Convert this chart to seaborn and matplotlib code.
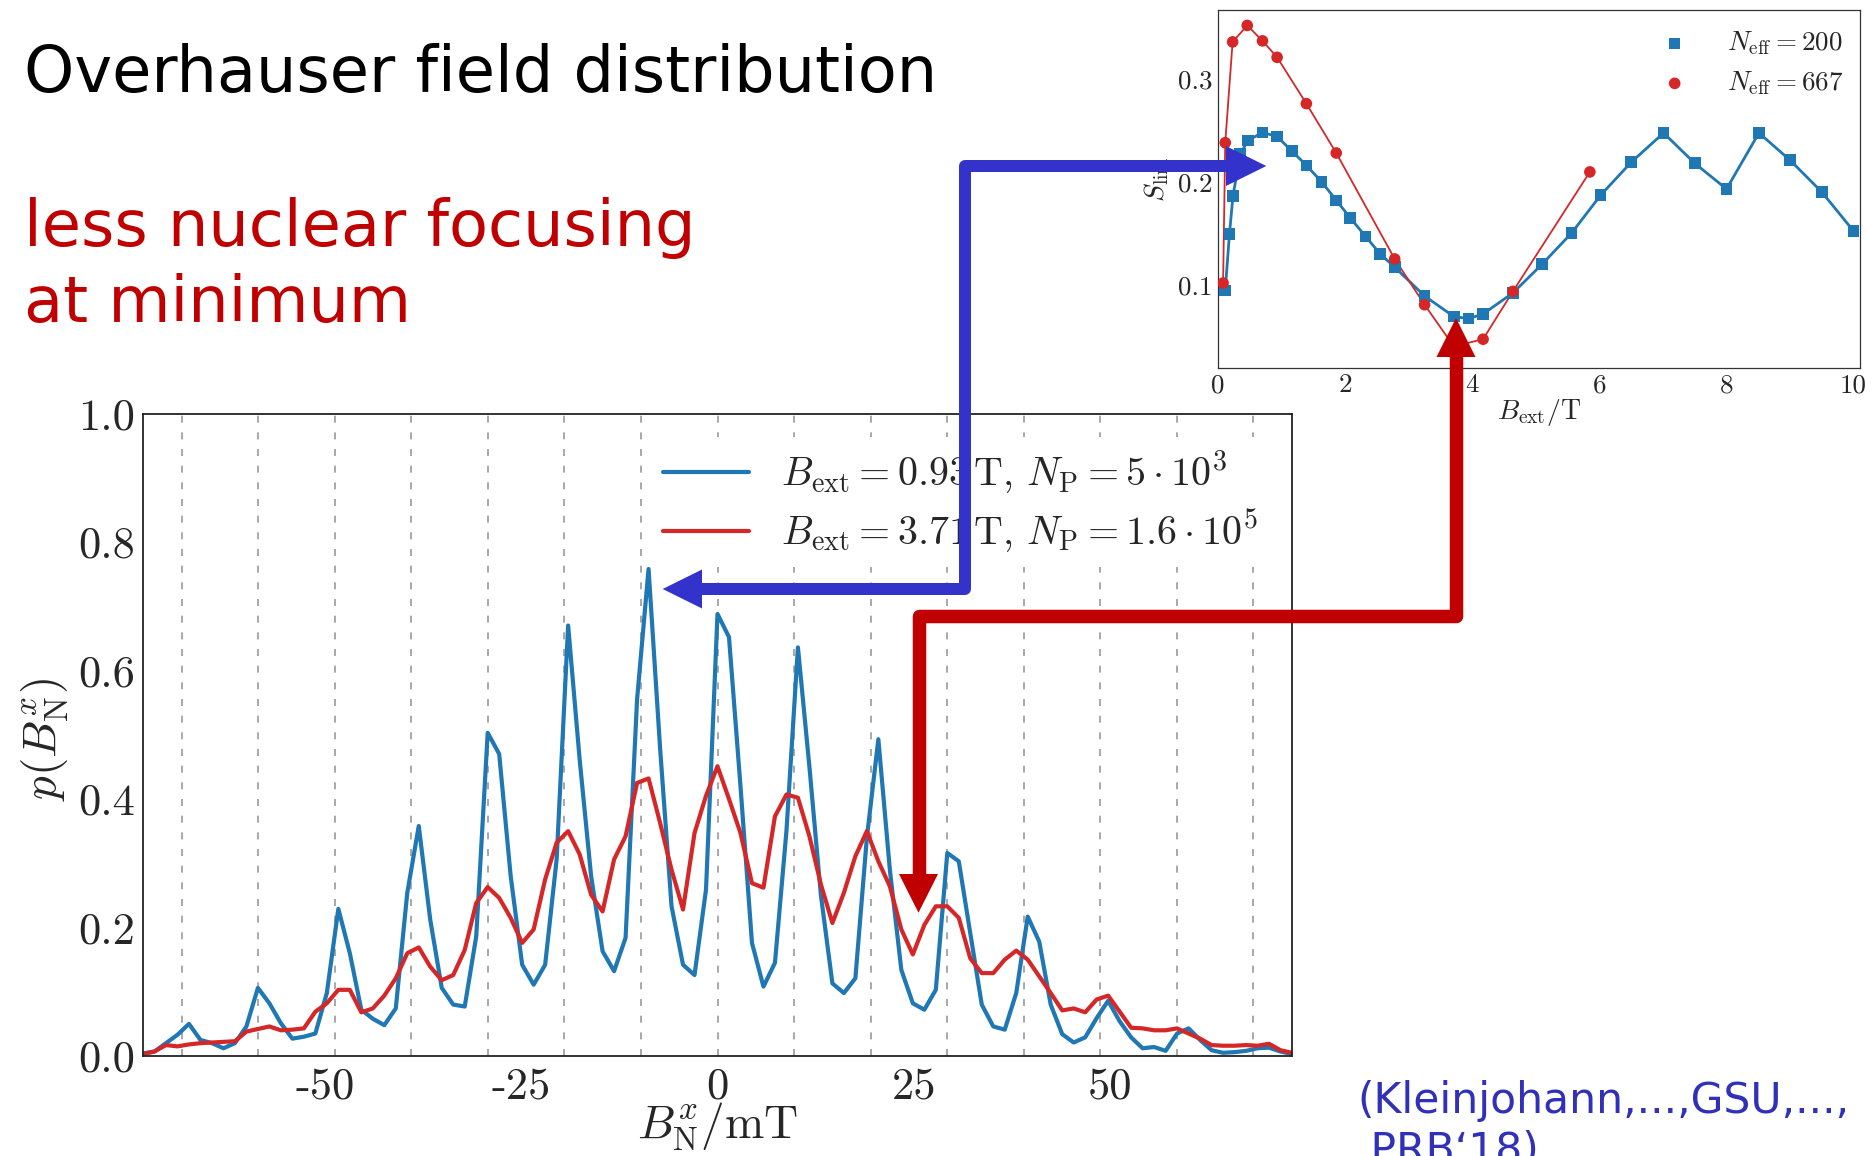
import numpy as np
import pandas as pd
import matplotlib
matplotlib.use("Agg")
import matplotlib.pyplot as plt
import seaborn as sns
from matplotlib.lines import Line2D
from matplotlib.patches import Polygon
from matplotlib.ticker import MultipleLocator

# ---------------- data ----------------
bn_min, bn_max = -73.2, 73.2
p_blue = [0.004, 0.007, 0.020, 0.033, 0.050, 0.025, 0.020, 0.012, 0.020, 0.046,
          0.106, 0.082, 0.051, 0.027, 0.030, 0.035, 0.098, 0.229, 0.160, 0.072,
          0.058, 0.048, 0.074, 0.254, 0.358, 0.212, 0.106, 0.080, 0.077, 0.186,
          0.503, 0.470, 0.280, 0.142, 0.111, 0.142, 0.306, 0.670, 0.462, 0.280,
          0.163, 0.132, 0.184, 0.555, 0.758, 0.480, 0.233, 0.142, 0.126, 0.259,
          0.688, 0.652, 0.420, 0.176, 0.108, 0.145, 0.350, 0.636, 0.450, 0.250,
          0.113, 0.098, 0.121, 0.340, 0.493, 0.290, 0.134, 0.082, 0.072, 0.103,
          0.316, 0.303, 0.191, 0.080, 0.046, 0.041, 0.098, 0.217, 0.178, 0.080,
          0.034, 0.021, 0.029, 0.059, 0.086, 0.054, 0.029, 0.012, 0.014, 0.008,
          0.035, 0.043, 0.025, 0.009, 0.005, 0.006, 0.008, 0.012, 0.013, 0.007,
          0.003]
p_red = [0.003, 0.007, 0.017, 0.015, 0.018, 0.020, 0.021, 0.022, 0.023, 0.038,
         0.042, 0.046, 0.040, 0.041, 0.043, 0.069, 0.082, 0.103, 0.103, 0.068,
         0.074, 0.094, 0.121, 0.160, 0.169, 0.139, 0.118, 0.126, 0.165, 0.238,
         0.263, 0.246, 0.215, 0.176, 0.197, 0.275, 0.332, 0.350, 0.314, 0.251,
         0.225, 0.306, 0.342, 0.425, 0.432, 0.363, 0.290, 0.228, 0.347, 0.405,
         0.451, 0.400, 0.347, 0.269, 0.262, 0.373, 0.407, 0.402, 0.342, 0.267,
         0.207, 0.254, 0.311, 0.350, 0.303, 0.264, 0.197, 0.158, 0.204, 0.233,
         0.233, 0.215, 0.152, 0.129, 0.129, 0.150, 0.164, 0.150, 0.124, 0.098,
         0.071, 0.074, 0.068, 0.088, 0.094, 0.069, 0.044, 0.043, 0.040, 0.040,
         0.043, 0.035, 0.027, 0.017, 0.016, 0.016, 0.017, 0.016, 0.019, 0.009,
         0.005]
series_labels = [r"$B_{\rm ext}=0.93\,{\rm T},\,N_{\rm P}=5\cdot10^{3}$",
                 r"$B_{\rm ext}=3.71\,{\rm T},\,N_{\rm P}=1.6\cdot10^{5}$"]
grid_positions = [-68.25, -58.5, -48.75, -39.0, -29.25, -19.5, -9.75, 0.0,
                  9.75, 19.5, 29.25, 39.0, 48.75, 58.5, 68.25]
main_xticks = [-50, -25, 0, 25, 50]
main_xticklabels = ["-50", "-25", "0", "25", "50"]
main_yticks = [0.0, 0.2, 0.4, 0.6, 0.8, 1.0]
main_yticklabels = ["0.0", "0.2", "0.4", "0.6", "0.8", "1.0"]

bext_200 = [0.114, 0.18, 0.235, 0.35, 0.47, 0.70, 0.93, 1.16, 1.39, 1.63, 1.86,
            2.08, 2.32, 2.55, 2.78, 3.25, 3.71, 3.94, 4.17, 4.64, 5.10, 5.56,
            6.02, 6.50, 7.01, 7.50, 8.00, 8.51, 9.00, 9.50, 10.0]
slim_200 = [0.0945, 0.149, 0.186, 0.227, 0.240, 0.248, 0.244, 0.230, 0.216, 0.200,
            0.182, 0.165, 0.147, 0.130, 0.117, 0.089, 0.069, 0.067, 0.0715, 0.092,
            0.120, 0.150, 0.187, 0.219, 0.2475, 0.218, 0.193, 0.2475, 0.221, 0.190,
            0.152]
bext_667 = [0.08, 0.114, 0.23, 0.46, 0.70, 0.93, 1.39, 1.86, 2.78, 3.25, 3.71,
            4.17, 4.64, 5.85]
slim_667 = [0.1016, 0.238, 0.336, 0.352, 0.337, 0.321, 0.276, 0.228, 0.125,
            0.0805, 0.040, 0.047, 0.0935, 0.2096]
inset_labels = [r"$N_{\rm eff}=200$", r"$N_{\rm eff}=667$"]
inset_xticks = [0, 2, 4, 6, 8, 10]
inset_xticklabels = ["0", "2", "4", "6", "8", "10"]
inset_yticks = [0.1, 0.2, 0.3]
inset_yticklabels = ["0.1", "0.2", "0.3"]

BLUE = "#1f77b4"
RED = "#d62728"
ARROW_BLUE = "#3333CC"
ARROW_RED = "#C00000"

# ---------------- style ----------------
sns.set_theme(style="white")
plt.rcParams.update({
    "font.family": ["cmr10"],
    "mathtext.fontset": "cm",
    "axes.unicode_minus": False,
    "axes.formatter.use_mathtext": True,
})

W, H = 1871, 1156
fig = plt.figure(figsize=(W / 100, H / 100), dpi=100)
fig.patch.set_facecolor("white")


def fx(px):
    return px / W


def fy(py):
    return 1 - py / H


# ---------------- main axes ----------------
ax = fig.add_axes([fx(143), fy(1056), (1292 - 143) / W, (1056 - 413.5) / H])
for g in grid_positions:
    ax.axvline(g, color="#9a9a9a", lw=1.2, ls=(0, (4.2, 5.8)), zorder=0)

bvals = np.linspace(bn_min, bn_max, len(p_blue))
df_main = pd.DataFrame({
    "B": np.concatenate([bvals, bvals]),
    "p": np.array(p_blue + p_red),
    "series": [series_labels[0]] * len(p_blue) + [series_labels[1]] * len(p_red),
})
sns.lineplot(data=df_main, x="B", y="p", hue="series", hue_order=series_labels,
             palette=[BLUE, RED], linewidth=3.0, ax=ax, legend=False,
             errorbar=None, sort=False)

ax.set_xlim(bn_min, bn_max)
ax.set_ylim(0, 1.0)
ax.set_xticks(main_xticks)
ax.set_xticklabels(main_xticklabels)
ax.set_yticks(main_yticks)
ax.set_yticklabels(main_yticklabels)
ax.xaxis.set_minor_locator(MultipleLocator(6.25))
ax.yaxis.set_minor_locator(MultipleLocator(0.05))
ax.tick_params(axis="both", which="major", direction="in", length=7, width=1.1,
               labelsize=32, color="#222222")
ax.tick_params(axis="both", which="minor", direction="in", length=4, width=0.9,
               color="#222222")
ax.tick_params(axis="x", which="major", pad=8)
ax.tick_params(axis="y", which="major", pad=6)
for sp in ax.spines.values():
    sp.set_color("#222222")
    sp.set_linewidth(1.3)

ax.set_xlabel(r"$B_{\rm N}^{x}/{\rm mT}$", fontsize=34, va="center")
ax.xaxis.set_label_coords(0.5, -0.11)
ax.set_ylabel(r"$p(B_{\rm N}^{x})$", fontsize=34, va="center")
ax.yaxis.set_label_coords(-0.0845, 0.493)

handles = [Line2D([], [], color=BLUE, lw=3.0), Line2D([], [], color=RED, lw=3.0)]
leg = ax.legend(handles, series_labels, loc="upper left",
                bbox_to_anchor=((651 - 143) / 1149, (1056 - 438) / 641),
                borderaxespad=0, borderpad=0.3, frameon=True, fancybox=False,
                facecolor="white", edgecolor="none", framealpha=1.0,
                fontsize=28.8, handlelength=2.15, handletextpad=0.8,
                labelspacing=0.3)

# ---------------- inset axes ----------------
ax2 = fig.add_axes([fx(1218), fy(368), (1860 - 1218) / W, (368 - 10) / H])
sns.lineplot(x=bext_200, y=slim_200, color=BLUE, linewidth=2.0, ax=ax2,
             sort=False, errorbar=None)
sns.lineplot(x=bext_667, y=slim_667, color=RED, linewidth=1.3, ax=ax2,
             sort=False, errorbar=None)
sns.scatterplot(x=bext_200, y=slim_200, marker="s", s=70, color=BLUE,
                edgecolor="none", ax=ax2, label=inset_labels[0], zorder=3)
sns.scatterplot(x=bext_667, y=slim_667, marker="o", s=70, color=RED,
                edgecolor="none", ax=ax2, label=inset_labels[1], zorder=3)
ax2.set_xlim(0, 10.1)
ax2.set_ylim(0.019, 0.367)
ax2.set_xticks(inset_xticks)
ax2.set_xticklabels(inset_xticklabels)
ax2.set_yticks(inset_yticks)
ax2.set_yticklabels(inset_yticklabels)
ax2.xaxis.set_minor_locator(MultipleLocator(1))
ax2.tick_params(axis="both", which="major", direction="in", length=4, width=0.8,
                labelsize=19.5, pad=4, color="#333333")
ax2.tick_params(axis="both", which="minor", direction="in", length=2.5,
                width=0.7, color="#333333")
for sp in ax2.spines.values():
    sp.set_color("#333333")
    sp.set_linewidth(0.9)
ax2.set_xlabel(r"$B_{\rm ext}/{\rm T}$", fontsize=20, va="center")
ax2.xaxis.set_label_coords(0.5, -0.123)
ax2.set_ylabel(r"$S_{\rm lim}$", fontsize=20, va="center")
ax2.yaxis.set_label_coords(-0.095, 0.528)
ax2.legend(loc="upper left", bbox_to_anchor=((1647.6 - 1218) / 642, 0.945),
           borderaxespad=0, borderpad=0, frameon=False, fontsize=19.5,
           handlelength=2.0, handletextpad=0.95, labelspacing=0.45,
           markerscale=1.0)

# ---------------- slide text ----------------
sans = ["DejaVu Sans"]
fig.text(fx(24), fy(92), "Overhauser field distribution", fontsize=46,
         family=sans, color="black", va="baseline", ha="left")
fig.text(fx(24), fy(246), "less nuclear focusing", fontsize=46,
         family=sans, color=ARROW_RED, va="baseline", ha="left")
fig.text(fx(24), fy(322), "at minimum", fontsize=46,
         family=sans, color=ARROW_RED, va="baseline", ha="left")
fig.text(fx(1357), fy(1113), "(Kleinjohann,...,GSU,...,", fontsize=30.6,
         family=sans, color="#3030B8", va="baseline", ha="left")
fig.text(fx(1357), fy(1163), " PRB\u201818)", fontsize=30.6,
         family=sans, color="#3030B8", va="baseline", ha="left")


# ---------------- arrows ----------------
def draw_path(points, color, width_px):
    xs = [fx(p[0]) for p in points]
    ys = [fy(p[1]) for p in points]
    ln = Line2D(xs, ys, transform=fig.transFigure, color=color,
                lw=width_px * 0.72, solid_joinstyle="round",
                solid_capstyle="butt", zorder=20)
    fig.add_artist(ln)


def draw_head(tip, base1, base2, color):
    pts = [(fx(tip[0]), fy(tip[1])), (fx(base1[0]), fy(base1[1])),
           (fx(base2[0]), fy(base2[1]))]
    fig.add_artist(Polygon(pts, closed=True, transform=fig.transFigure,
                           facecolor=color, edgecolor="none", zorder=21))


# blue: main-plot peak  <->  inset S_lim at ~0.93 T
draw_path([(701, 589), (965, 589), (965, 166), (1228, 166)], ARROW_BLUE, 12)
draw_head((662.7, 589), (702, 569.5), (702, 608.5), ARROW_BLUE)
draw_head((1266.3, 166), (1226, 146), (1226, 186), ARROW_BLUE)

# red: inset minimum <-> main-plot dip
draw_path([(919, 875), (919, 616), (1456, 616), (1456, 356)], ARROW_RED, 13.5)
draw_head((918.5, 912.7), (899, 874), (938, 874), ARROW_RED)
draw_head((1456, 318), (1436.5, 357), (1475.5, 357), ARROW_RED)

fig.savefig("out.png", dpi=100)
